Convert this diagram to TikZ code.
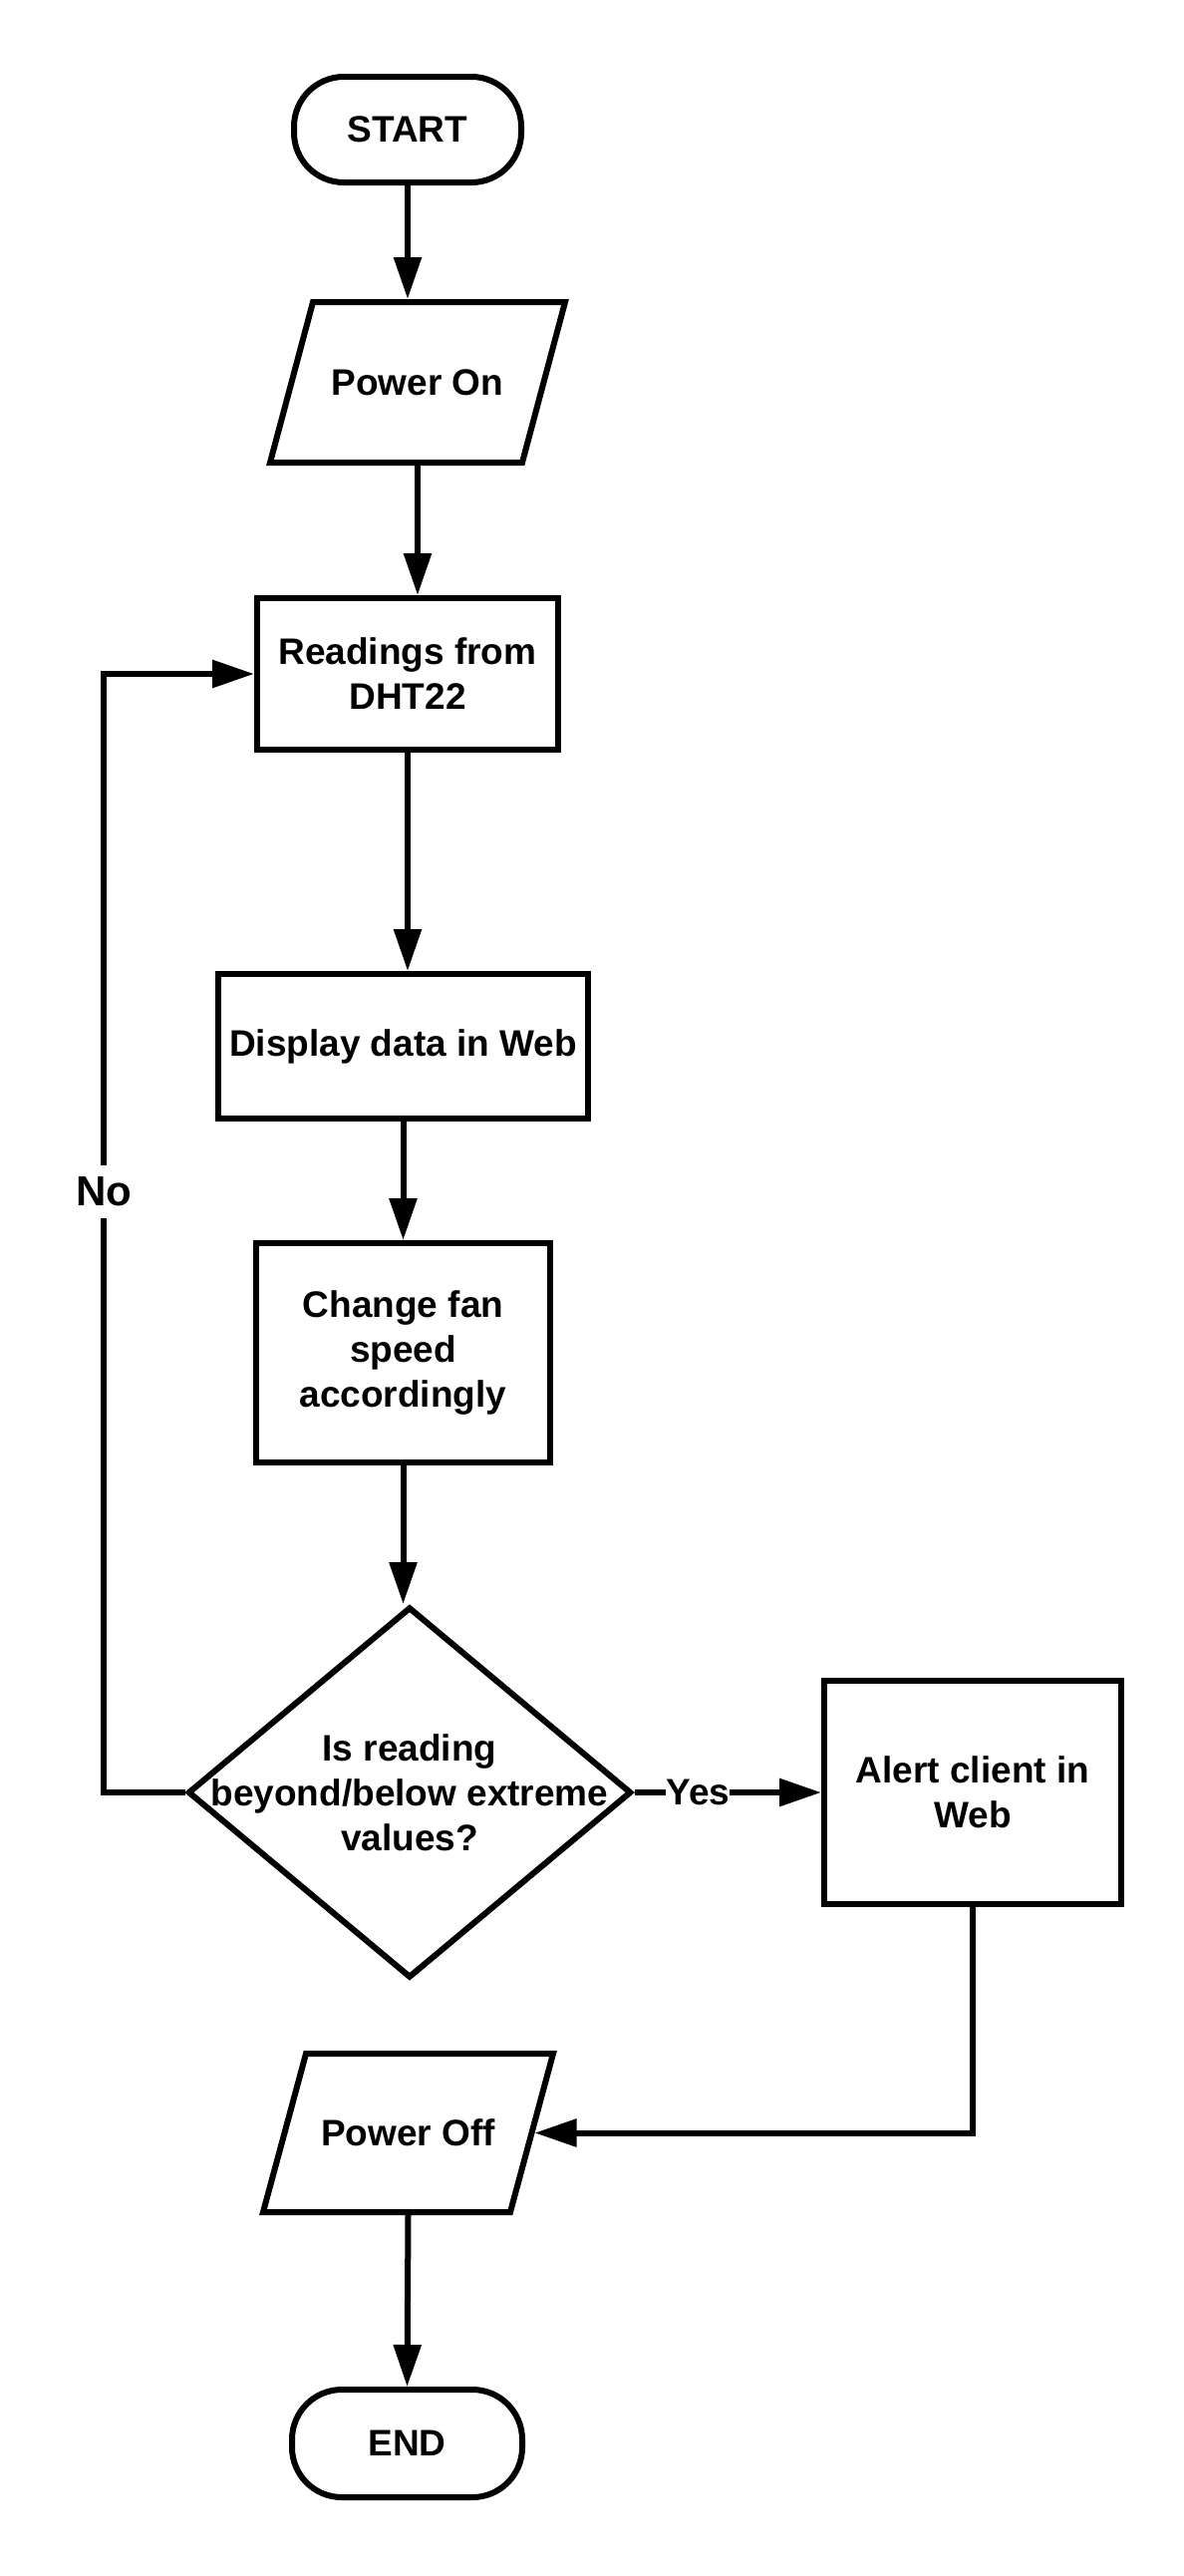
\documentclass[tikz,border=0pt]{standalone}
\usepackage{fontspec}
\setmainfont{Liberation Sans}
\usetikzlibrary{arrows.meta,shapes.geometric,calc}
\begin{document}
\begin{tikzpicture}[x=1pt,y=-1pt,
  every node/.style={font=\fontsize{37}{45}\selectfont\bfseries, align=center},
  shp/.style={draw, line width=6pt, inner sep=0pt},
  shpline/.style={line width=6pt, line join=miter},
  terminal/.style={shp, rectangle, rounded corners=50pt},
  procbox/.style={shp, rectangle},
  iotext/.style={rectangle, inner sep=0pt, outer sep=3pt},
  decbox/.style={shp, diamond},
  arr/.style={line width=6pt, -{Triangle[length=42pt,width=27pt]}},
  lbl/.style={fill=white, inner xsep=0pt, inner ysep=8pt}
]
\useasboundingbox (0,0) rectangle (1188,2584);
\node[terminal, minimum width=228pt, minimum height=106pt] (start) at (409,130) {START};
\node[iotext, minimum width=253pt, minimum height=161pt] (pon) at (419,383.5) {Power On};
\draw[shpline] ($(pon.center)+(-148,80.5)$) -- ($(pon.center)+(-105,-80.5)$) -- ($(pon.center)+(148,-80.5)$) -- ($(pon.center)+(105,80.5)$) -- cycle;
\node[procbox, minimum width=302pt, minimum height=152pt] (read) at (409,676) {Readings from\\DHT22};
\node[procbox, minimum width=371pt, minimum height=145pt] (disp) at (404.5,1049.5) {Display data in Web};
\node[procbox, minimum width=295pt, minimum height=220pt] (fan) at (404.5,1357) {Change fan\\speed\\accordingly};
\node[decbox, minimum width=445pt, minimum height=372pt] (dec) at (411,1798) {};
\node (dectext) at (dec.center) {Is reading\\beyond/below extreme\\values?};
\node[procbox, minimum width=298pt, minimum height=224pt] (alert) at (976,1798) {Alert client in\\Web};
\node[iotext, minimum width=248pt, minimum height=159pt] (poff) at (409.5,2139.5) {Power Off};
\draw[shpline] ($(poff.center)+(-145.5,79.5)$) -- ($(poff.center)+(-102.5,-79.5)$) -- ($(poff.center)+(145.5,-79.5)$) -- ($(poff.center)+(102.5,79.5)$) -- cycle;
\node[terminal, minimum width=231pt, minimum height=108pt] (end) at (408.5,2451) {END};
\coordinate (noturn) at (104,1798);

\draw[arr] (start.south) -- (start.south |- pon.north);
\draw[arr] (pon.south) -- (pon.south |- read.north);
\draw[arr] (read.south) -- (read.south |- disp.north);
\draw[arr] (disp.south) -- (fan.north);
\draw[arr] (fan.south) -- (fan.south |- dec.north);
\draw[arr] (dec.east) -- node[lbl, pos=0.34] (yes) {Yes} (alert.west);
\draw[arr] (alert.south) -- (alert.south |- poff.east) -- (poff.east);
\draw[arr] (poff.south) -- (end.north);
\draw[arr] (dec.west) -- (noturn) -- node[lbl, pos=0.537, inner ysep=12pt, font=\fontsize{42}{50}\selectfont\bfseries] (no) {No} (noturn |- read.west) -- (read.west);
\end{tikzpicture}
\end{document}
